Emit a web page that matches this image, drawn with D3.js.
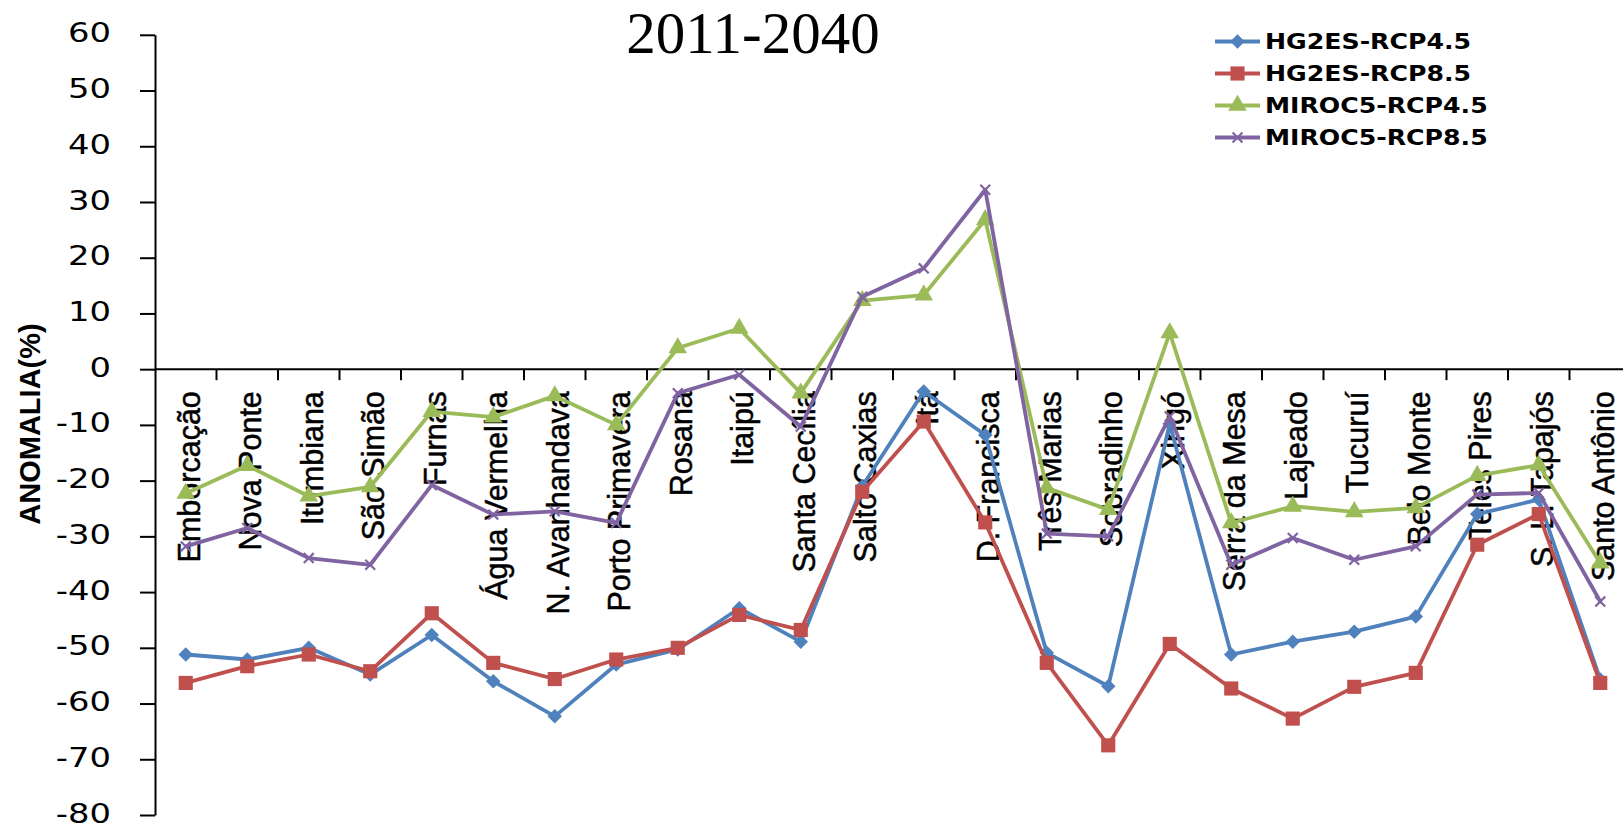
<!DOCTYPE html>
<html>
<head>
<meta charset="utf-8">
<script src="https://cdn.jsdelivr.net/npm/d3@7"></script>
<style>
  html, body { margin: 0; padding: 0; background: #fff; }
  svg { display: block; }
</style>
</head>
<body>
<svg id="chart" width="1623" height="828"></svg>
<script>
// Hydro plants along the x axis
const categories = [
  "Emborcação", "Nova Ponte", "Itumbiana", "São Simão", "Furnas", "Água Vermelha",
  "N. Avanhandava", "Porto Primavera", "Rosana", "Itaipú", "Santa Cecília", "Salto Caxias",
  "Itá", "D. Francisca", "Três Marias", "Sobradinho", "Xingó", "Serra da Mesa",
  "Lajeado", "Tucuruí", "Belo Monte", "Teles Pires", "S. L. Tapajós", "Santo Antônio"
];

// Streamflow anomaly (%) per model / scenario
const hg2esRcp45 = [-51.2, -52.1, -50.0, -54.8, -47.7, -56.0, -62.3, -53.0, -50.3, -42.9, -48.9, -21.0,
                    -4.0, -11.8, -50.9, -56.9, -9.8, -51.2, -48.9, -47.1, -44.4, -26.0, -23.4, -55.7];
const hg2esRcp85 = [-56.3, -53.3, -51.2, -54.2, -43.8, -52.7, -55.6, -52.1, -50.0, -44.1, -46.8, -22.0,
                    -9.4, -27.5, -52.7, -67.5, -49.3, -57.3, -62.7, -57.0, -54.5, -31.5, -26.0, -56.3];
const miroc5Rcp45 = [-22.3, -17.3, -22.8, -21.1, -7.6, -8.6, -4.8, -10.0, 3.8, 7.3, -4.3, 12.3,
                     13.3, 26.8, -21.3, -25.2, 6.5, -27.6, -24.6, -25.6, -24.9, -19.1, -17.2, -34.8];
const miroc5Rcp85 = [-31.8, -28.5, -33.9, -35.1, -20.8, -26.1, -25.5, -27.6, -4.3, -1.0, -10.3, 13.0,
                     18.1, 32.2, -29.5, -30.0, -8.5, -35.1, -30.3, -34.2, -31.8, -22.5, -22.2, -41.7];

const seriesNames = ["HG2ES-RCP4.5", "HG2ES-RCP8.5", "MIROC5-RCP4.5", "MIROC5-RCP8.5"];
const yTickValues = [-80, -70, -60, -50, -40, -30, -20, -10, 0, 10, 20, 30, 40, 50, 60];
const chartTitle = "2011-2040";
const yAxisTitle = "ANOMALIA(%)";

// Styling for each series
const seriesStyle = [
  { color: "#4F81BD", marker: "diamond" },
  { color: "#C0504D", marker: "square" },
  { color: "#9BBB59", marker: "triangle" },
  { color: "#8064A2", marker: "x" }
];
const seriesValues = [hg2esRcp45, hg2esRcp85, miroc5Rcp45, miroc5Rcp85];
const series = seriesNames.map((name, i) => ({ name, values: seriesValues[i], ...seriesStyle[i] }));

const svg = d3.select("#chart");
const left = 155;

const x = d3.scaleBand().domain(categories).range([left, left + 61.5 * categories.length]);
const y = d3.scaleLinear().domain([-80, 60]).range([815, 34.8]);
const y0 = y(0);
const cx = d => x(d) + x.bandwidth() / 2;

// Title
svg.append("text")
  .attr("x", 753).attr("y", 53)
  .attr("text-anchor", "middle")
  .style("font-family", "'Liberation Serif', 'Times New Roman', serif")
  .style("font-size", "59px")
  .attr("fill", "#000")
  .text(chartTitle);

// Y axis title
svg.append("text")
  .attr("transform", `translate(40,424) rotate(-90)`)
  .attr("text-anchor", "middle")
  .style("font-family", "'Liberation Sans', Arial, sans-serif")
  .style("font-size", "29px")
  .style("font-weight", "bold")
  .attr("fill", "#000")
  .text(yAxisTitle);

// Category labels, vertical, hanging just below the zero line
svg.append("g").attr("class", "cat-labels")
  .selectAll("text").data(categories).join("text")
  .attr("transform", d => `translate(${cx(d) + 14},${y0 + 22}) rotate(-90)`)
  .attr("text-anchor", "end")
  .style("font-family", "'Liberation Sans', Arial, sans-serif")
  .style("font-size", "30.5px")
  .attr("fill", "#000")
  .attr("stroke", "#000")
  .attr("stroke-width", 0.5)
  .text(d => d);

// Y axis
const yAxis = svg.append("g")
  .attr("transform", `translate(${left},0)`)
  .call(d3.axisLeft(y).tickValues(yTickValues).tickSize(15).tickSizeOuter(0).tickFormat(d => String(d)));
yAxis.select(".domain").attr("stroke", "#000").attr("stroke-width", 2);
yAxis.selectAll(".tick line").attr("stroke", "#000").attr("stroke-width", 2);
yAxis.selectAll(".tick text")
  .attr("x", null)
  .attr("dy", "0.27em")
  .attr("transform", "translate(-44,0) scale(1.3,1)")
  .attr("fill", "#000")
  .style("font-family", "'DejaVu Sans', Verdana, sans-serif")
  .style("font-size", "26px");

// X axis along zero, ticks at band boundaries
const xAxis = svg.append("g").attr("class", "x-axis");
xAxis.append("line")
  .attr("x1", left).attr("x2", x.range()[1])
  .attr("y1", y0).attr("y2", y0)
  .attr("stroke", "#000").attr("stroke-width", 2);
xAxis.selectAll("line.tick").data(categories.slice(1)).join("line")
  .attr("class", "tick")
  .attr("x1", d => x(d)).attr("x2", d => x(d))
  .attr("y1", y0).attr("y2", y0 + 11)
  .attr("stroke", "#000").attr("stroke-width", 2);

// Marker generators
function markerPath(type) {
  switch (type) {
    case "diamond": return d3.symbol(d3.symbolSquare, 105)();
    case "square": return d3.symbol(d3.symbolSquare, 200)();
    case "triangle": return d3.symbol(d3.symbolTriangle, 150)();
    default: return d3.symbol(d3.symbolCross, 110)();
  }
}
function markerTransform(type, px, py) {
  return (type === "diamond" || type === "x")
    ? `translate(${px},${py}) rotate(45)`
    : `translate(${px},${py})`;
}
function drawMarker(sel, s) {
  if (s.marker === "x") {
    sel.attr("d", "M-7,0H7M0,-7V7")
      .attr("fill", "none").attr("stroke", s.color).attr("stroke-width", 2.2);
  } else {
    sel.attr("d", markerPath(s.marker)).attr("fill", s.color).attr("stroke", "none");
  }
}

const line = d3.line()
  .x((d, i) => cx(categories[i]))
  .y(d => y(d));

// Series lines with markers
series.forEach(s => {
  const g = svg.append("g").attr("class", "series");
  g.append("path")
    .attr("d", line(s.values))
    .attr("fill", "none")
    .attr("stroke", s.color)
    .attr("stroke-width", 3.8)
    .attr("stroke-linejoin", "round")
    .attr("stroke-linecap", "round");
  g.selectAll("path.mk").data(s.values).join("path")
    .attr("class", "mk")
    .attr("transform", (d, i) => markerTransform(s.marker, cx(categories[i]), y(d)))
    .call(sel => drawMarker(sel, s));
});

// Legend
const legend = svg.append("g").attr("class", "legend");
series.forEach((s, i) => {
  const ry = 41.5 + i * 32;
  legend.append("line")
    .attr("x1", 1215).attr("x2", 1260).attr("y1", ry).attr("y2", ry)
    .attr("stroke", s.color).attr("stroke-width", 3.8);
  legend.append("path")
    .attr("transform", markerTransform(s.marker, 1237.5, ry))
    .call(sel => drawMarker(sel, s));
  legend.append("text")
    .attr("transform", `translate(1265,${ry}) scale(1.2,1)`)
    .attr("dy", "0.36em")
    .style("font-family", "'DejaVu Sans', Verdana, sans-serif")
    .style("font-size", "21px")
    .style("font-weight", "bold")
    .attr("fill", "#000")
    .text(s.name);
});
</script>
</body>
</html>
